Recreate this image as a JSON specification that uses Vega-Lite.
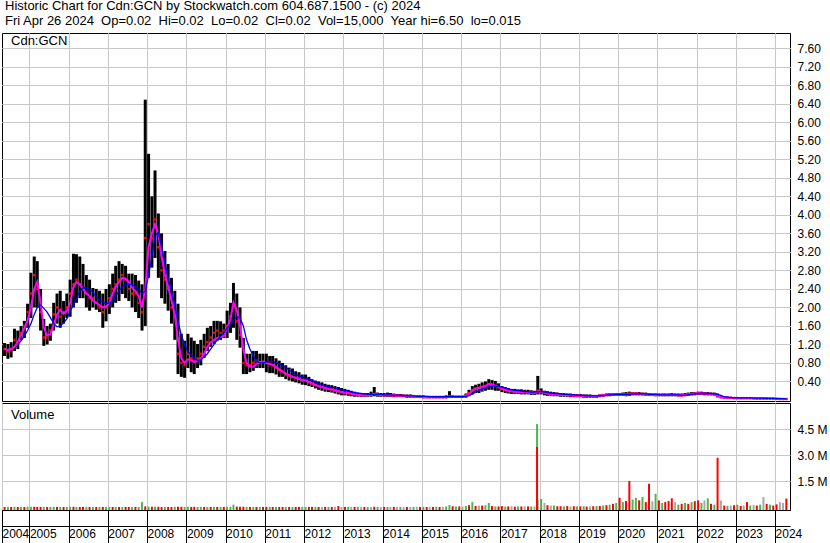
{
"$schema": "https://vega.github.io/schema/vega-lite/v6.json",
"padding": 0,
"background": "white",
"spacing": 2,
"bounds": "flush",
"title": {"text": ["Historic Chart for Cdn:GCN by Stockwatch.com 604.687.1500 - (c) 2024", "Fri Apr 26 2024\u00a0\u00a0Op=0.02\u00a0\u00a0Hi=0.02\u00a0\u00a0Lo=0.02\u00a0\u00a0Cl=0.02\u00a0\u00a0Vol=15,000\u00a0\u00a0Year hi=6.50\u00a0\u00a0lo=0.015"], "anchor": "start", "frame": "group", "font": "Liberation Sans", "fontSize": 13, "fontWeight": "normal", "color": "#000000", "lineHeight": 15, "offset": 4, "dx": 3},
"config": {
  "view": {"stroke": "#000000", "strokeWidth": 1},
  "scale": {"continuousPadding": 0},
  "axis": {"labelFont": "Liberation Sans", "labelFontSize": 12, "labelColor": "#000000", "gridColor": "#c8c8c8", "gridWidth": 1, "title": null}
},
"datasets": {
"p": [
{"d":"2004-05-15","h":1.23,"l":0.95,"c":1.1,"a":1.1,"b":null,"vol":0.02,"k":"d"},
{"d":"2004-06-15","h":1.21,"l":0.89,"c":1.05,"a":1.08,"b":null,"vol":0.02,"k":"u"},
{"d":"2004-07-15","h":1.25,"l":0.92,"c":1.1,"a":1.1,"b":null,"vol":0.02,"k":"d"},
{"d":"2004-08-15","h":1.54,"l":1.06,"c":1.3,"a":1.15,"b":null,"vol":0.03,"k":"u"},
{"d":"2004-09-15","h":1.5,"l":1.1,"c":1.25,"a":1.25,"b":1.2,"vol":0.02,"k":"d"},
{"d":"2004-10-15","h":1.6,"l":1.3,"c":1.45,"a":1.4,"b":1.28,"vol":0.03,"k":"u"},
{"d":"2004-11-15","h":1.71,"l":1.34,"c":1.6,"a":1.55,"b":1.38,"vol":0.02,"k":"d"},
{"d":"2004-12-15","h":2.08,"l":1.56,"c":1.9,"a":1.71,"b":1.5,"vol":0.03,"k":"u"},
{"d":"2005-01-15","h":2.75,"l":1.77,"c":2.3,"a":2.0,"b":1.65,"vol":0.03,"k":"u"},
{"d":"2005-02-15","h":3.1,"l":2.0,"c":2.7,"a":2.4,"b":1.85,"vol":0.03,"k":"d"},
{"d":"2005-03-15","h":3.0,"l":2.0,"c":2.4,"a":2.55,"b":2.0,"vol":0.02,"k":"d"},
{"d":"2005-04-15","h":2.4,"l":1.5,"c":1.9,"a":2.1,"b":2.05,"vol":0.02,"k":"d"},
{"d":"2005-05-15","h":1.75,"l":1.17,"c":1.35,"a":1.56,"b":1.98,"vol":0.02,"k":"u"},
{"d":"2005-06-15","h":1.6,"l":1.2,"c":1.35,"a":1.4,"b":1.9,"vol":0.02,"k":"d"},
{"d":"2005-07-15","h":1.65,"l":1.28,"c":1.5,"a":1.42,"b":1.78,"vol":0.02,"k":"u"},
{"d":"2005-08-15","h":2.1,"l":1.5,"c":1.85,"a":1.62,"b":1.66,"vol":0.03,"k":"u"},
{"d":"2005-09-15","h":2.3,"l":1.65,"c":2.0,"a":1.85,"b":1.58,"vol":0.02,"k":"d"},
{"d":"2005-10-15","h":2.36,"l":1.56,"c":1.8,"a":1.95,"b":1.6,"vol":0.02,"k":"u"},
{"d":"2005-11-15","h":2.14,"l":1.65,"c":1.9,"a":1.86,"b":1.67,"vol":0.02,"k":"d"},
{"d":"2005-12-15","h":2.3,"l":1.77,"c":2.0,"a":1.92,"b":1.75,"vol":0.02,"k":"u"},
{"d":"2006-01-15","h":2.6,"l":1.8,"c":2.3,"a":2.1,"b":1.92,"vol":0.03,"k":"u"},
{"d":"2006-02-15","h":3.16,"l":2.0,"c":2.5,"a":2.45,"b":2.05,"vol":0.03,"k":"d"},
{"d":"2006-03-15","h":3.15,"l":2.1,"c":2.6,"a":2.55,"b":2.2,"vol":0.02,"k":"u"},
{"d":"2006-04-15","h":3.1,"l":2.2,"c":2.5,"a":2.5,"b":2.35,"vol":0.02,"k":"d"},
{"d":"2006-05-15","h":2.94,"l":2.2,"c":2.4,"a":2.4,"b":2.42,"vol":0.02,"k":"d"},
{"d":"2006-06-15","h":2.7,"l":2.0,"c":2.3,"a":2.3,"b":2.42,"vol":0.02,"k":"u"},
{"d":"2006-07-15","h":2.6,"l":1.93,"c":2.2,"a":2.25,"b":2.38,"vol":0.02,"k":"d"},
{"d":"2006-08-15","h":2.42,"l":2.0,"c":2.2,"a":2.15,"b":2.33,"vol":0.02,"k":"u"},
{"d":"2006-09-15","h":2.4,"l":1.95,"c":2.1,"a":2.1,"b":2.22,"vol":0.02,"k":"d"},
{"d":"2006-10-15","h":2.36,"l":1.9,"c":2.0,"a":2.05,"b":2.16,"vol":0.02,"k":"u"},
{"d":"2006-11-15","h":2.3,"l":1.56,"c":1.9,"a":2.0,"b":2.12,"vol":0.02,"k":"d"},
{"d":"2006-12-15","h":2.4,"l":1.7,"c":2.0,"a":2.02,"b":2.08,"vol":0.02,"k":"u"},
{"d":"2007-01-15","h":2.5,"l":1.86,"c":2.2,"a":2.1,"b":2.1,"vol":0.02,"k":"u"},
{"d":"2007-02-15","h":2.73,"l":2.0,"c":2.4,"a":2.3,"b":2.14,"vol":0.02,"k":"d"},
{"d":"2007-03-15","h":2.9,"l":2.1,"c":2.5,"a":2.45,"b":2.25,"vol":0.02,"k":"u"},
{"d":"2007-04-15","h":3.0,"l":2.14,"c":2.6,"a":2.55,"b":2.35,"vol":0.02,"k":"d"},
{"d":"2007-05-15","h":2.94,"l":2.29,"c":2.7,"a":2.64,"b":2.45,"vol":0.02,"k":"u"},
{"d":"2007-06-15","h":2.9,"l":2.2,"c":2.6,"a":2.62,"b":2.5,"vol":0.02,"k":"d"},
{"d":"2007-07-15","h":2.73,"l":2.14,"c":2.4,"a":2.55,"b":2.5,"vol":0.02,"k":"d"},
{"d":"2007-08-15","h":2.73,"l":2.0,"c":2.3,"a":2.42,"b":2.5,"vol":0.02,"k":"u"},
{"d":"2007-09-15","h":2.7,"l":1.9,"c":2.3,"a":2.35,"b":2.45,"vol":0.02,"k":"d"},
{"d":"2007-10-15","h":2.58,"l":1.77,"c":2.1,"a":2.25,"b":2.4,"vol":0.02,"k":"u"},
{"d":"2007-11-15","h":2.5,"l":1.5,"c":1.9,"a":2.0,"b":2.3,"vol":0.3,"k":"u"},
{"d":"2007-12-15","h":6.49,"l":1.6,"c":3.5,"a":2.4,"b":2.35,"vol":0.05,"k":"d"},
{"d":"2008-01-15","h":5.32,"l":2.64,"c":3.8,"a":3.3,"b":2.7,"vol":0.04,"k":"u"},
{"d":"2008-02-15","h":4.4,"l":2.86,"c":3.5,"a":3.6,"b":3.1,"vol":0.03,"k":"d"},
{"d":"2008-03-15","h":4.96,"l":3.07,"c":3.9,"a":3.8,"b":3.55,"vol":0.03,"k":"u"},
{"d":"2008-04-15","h":4.03,"l":2.64,"c":3.3,"a":3.6,"b":3.62,"vol":0.03,"k":"d"},
{"d":"2008-05-15","h":3.6,"l":2.2,"c":2.8,"a":3.1,"b":3.3,"vol":0.02,"k":"d"},
{"d":"2008-06-15","h":3.22,"l":2.08,"c":2.6,"a":2.7,"b":2.95,"vol":0.02,"k":"u"},
{"d":"2008-07-15","h":2.94,"l":1.93,"c":2.4,"a":2.45,"b":2.65,"vol":0.02,"k":"d"},
{"d":"2008-08-15","h":2.64,"l":1.65,"c":2.0,"a":2.15,"b":2.35,"vol":0.02,"k":"d"},
{"d":"2008-09-15","h":2.36,"l":1.3,"c":1.8,"a":1.85,"b":2.05,"vol":0.03,"k":"u"},
{"d":"2008-10-15","h":2.08,"l":0.56,"c":1.0,"a":1.3,"b":1.7,"vol":0.03,"k":"d"},
{"d":"2008-11-15","h":1.43,"l":0.5,"c":0.8,"a":0.9,"b":1.4,"vol":0.03,"k":"d"},
{"d":"2008-12-15","h":1.28,"l":0.48,"c":0.75,"a":0.8,"b":1.2,"vol":0.02,"k":"u"},
{"d":"2009-01-15","h":1.43,"l":0.69,"c":1.0,"a":0.88,"b":1.05,"vol":0.03,"k":"u"},
{"d":"2009-02-15","h":1.35,"l":0.6,"c":0.9,"a":0.86,"b":0.97,"vol":0.02,"k":"d"},
{"d":"2009-03-15","h":1.28,"l":0.56,"c":0.85,"a":0.82,"b":0.9,"vol":0.03,"k":"d"},
{"d":"2009-04-15","h":1.21,"l":0.69,"c":0.9,"a":0.85,"b":0.85,"vol":0.02,"k":"u"},
{"d":"2009-05-15","h":1.3,"l":0.75,"c":1.0,"a":0.9,"b":0.87,"vol":0.03,"k":"u"},
{"d":"2009-06-15","h":1.43,"l":0.91,"c":1.15,"a":1.0,"b":0.93,"vol":0.02,"k":"d"},
{"d":"2009-07-15","h":1.56,"l":1.06,"c":1.25,"a":1.15,"b":1.0,"vol":0.02,"k":"u"},
{"d":"2009-08-15","h":1.6,"l":1.15,"c":1.35,"a":1.25,"b":1.1,"vol":0.02,"k":"d"},
{"d":"2009-09-15","h":1.71,"l":1.21,"c":1.45,"a":1.3,"b":1.2,"vol":0.03,"k":"u"},
{"d":"2009-10-15","h":1.71,"l":1.28,"c":1.5,"a":1.34,"b":1.3,"vol":0.02,"k":"d"},
{"d":"2009-11-15","h":1.7,"l":1.3,"c":1.45,"a":1.36,"b":1.38,"vol":0.02,"k":"u"},
{"d":"2009-12-15","h":1.65,"l":1.34,"c":1.5,"a":1.38,"b":1.45,"vol":0.02,"k":"d"},
{"d":"2010-01-15","h":1.93,"l":1.34,"c":1.6,"a":1.55,"b":1.55,"vol":0.03,"k":"u"},
{"d":"2010-02-15","h":2.1,"l":1.45,"c":1.8,"a":1.75,"b":1.63,"vol":0.03,"k":"u"},
{"d":"2010-03-15","h":2.53,"l":1.56,"c":2.0,"a":2.1,"b":1.72,"vol":0.15,"k":"u"},
{"d":"2010-04-15","h":2.3,"l":1.3,"c":1.7,"a":1.95,"b":1.8,"vol":0.04,"k":"d"},
{"d":"2010-05-15","h":2.0,"l":1.13,"c":1.4,"a":1.6,"b":1.77,"vol":0.03,"k":"d"},
{"d":"2010-06-15","h":1.34,"l":0.56,"c":0.8,"a":1.1,"b":1.6,"vol":0.03,"k":"d"},
{"d":"2010-07-15","h":1.0,"l":0.56,"c":0.75,"a":0.8,"b":1.3,"vol":0.02,"k":"u"},
{"d":"2010-08-15","h":1.0,"l":0.6,"c":0.75,"a":0.72,"b":1.1,"vol":0.02,"k":"d"},
{"d":"2010-09-15","h":1.06,"l":0.63,"c":0.8,"a":0.72,"b":0.95,"vol":0.02,"k":"u"},
{"d":"2010-10-15","h":1.06,"l":0.69,"c":0.85,"a":0.78,"b":0.84,"vol":0.02,"k":"d"},
{"d":"2010-11-15","h":1.0,"l":0.69,"c":0.8,"a":0.82,"b":0.8,"vol":0.02,"k":"u"},
{"d":"2010-12-15","h":1.0,"l":0.69,"c":0.82,"a":0.83,"b":0.8,"vol":0.02,"k":"d"},
{"d":"2011-01-15","h":1.0,"l":0.6,"c":0.8,"a":0.8,"b":0.82,"vol":0.02,"k":"d"},
{"d":"2011-02-15","h":0.95,"l":0.58,"c":0.78,"a":0.78,"b":0.84,"vol":0.02,"k":"u"},
{"d":"2011-03-15","h":0.95,"l":0.58,"c":0.75,"a":0.76,"b":0.83,"vol":0.02,"k":"d"},
{"d":"2011-04-15","h":0.9,"l":0.55,"c":0.7,"a":0.72,"b":0.8,"vol":0.02,"k":"u"},
{"d":"2011-05-15","h":0.85,"l":0.5,"c":0.65,"a":0.66,"b":0.78,"vol":0.02,"k":"d"},
{"d":"2011-06-15","h":0.8,"l":0.5,"c":0.6,"a":0.62,"b":0.74,"vol":0.02,"k":"d"},
{"d":"2011-07-15","h":0.75,"l":0.45,"c":0.55,"a":0.57,"b":0.7,"vol":0.02,"k":"u"},
{"d":"2011-08-15","h":0.7,"l":0.42,"c":0.52,"a":0.54,"b":0.65,"vol":0.02,"k":"d"},
{"d":"2011-09-15","h":0.68,"l":0.4,"c":0.5,"a":0.5,"b":0.6,"vol":0.02,"k":"u"},
{"d":"2011-10-15","h":0.62,"l":0.38,"c":0.48,"a":0.48,"b":0.56,"vol":0.02,"k":"d"},
{"d":"2011-11-15","h":0.6,"l":0.36,"c":0.46,"a":0.46,"b":0.52,"vol":0.02,"k":"d"},
{"d":"2011-12-15","h":0.55,"l":0.33,"c":0.42,"a":0.43,"b":0.5,"vol":0.02,"k":"u"},
{"d":"2012-01-15","h":0.55,"l":0.32,"c":0.42,"a":0.42,"b":0.47,"vol":0.02,"k":"u"},
{"d":"2012-02-15","h":0.5,"l":0.3,"c":0.38,"a":0.39,"b":0.45,"vol":0.02,"k":"d"},
{"d":"2012-03-15","h":0.45,"l":0.28,"c":0.35,"a":0.36,"b":0.42,"vol":0.02,"k":"d"},
{"d":"2012-04-15","h":0.42,"l":0.25,"c":0.32,"a":0.33,"b":0.39,"vol":0.02,"k":"u"},
{"d":"2012-05-15","h":0.4,"l":0.22,"c":0.3,"a":0.3,"b":0.36,"vol":0.02,"k":"d"},
{"d":"2012-06-15","h":0.38,"l":0.2,"c":0.28,"a":0.28,"b":0.33,"vol":0.02,"k":"n"},
{"d":"2012-07-15","h":0.35,"l":0.18,"c":0.25,"a":0.26,"b":0.31,"vol":0.02,"k":"d"},
{"d":"2012-08-15","h":0.33,"l":0.17,"c":0.24,"a":0.24,"b":0.29,"vol":0.02,"k":"u"},
{"d":"2012-09-15","h":0.32,"l":0.16,"c":0.22,"a":0.23,"b":0.27,"vol":0.02,"k":"d"},
{"d":"2012-10-15","h":0.3,"l":0.14,"c":0.2,"a":0.21,"b":0.26,"vol":0.03,"k":"n"},
{"d":"2012-11-15","h":0.28,"l":0.12,"c":0.18,"a":0.19,"b":0.24,"vol":0.07,"k":"d"},
{"d":"2012-12-15","h":0.26,"l":0.1,"c":0.16,"a":0.17,"b":0.22,"vol":0.02,"k":"n"},
{"d":"2013-01-15","h":0.24,"l":0.1,"c":0.15,"a":0.16,"b":0.21,"vol":0.02,"k":"d"},
{"d":"2013-02-15","h":0.22,"l":0.09,"c":0.14,"a":0.15,"b":0.19,"vol":0.03,"k":"u"},
{"d":"2013-03-15","h":0.2,"l":0.08,"c":0.13,"a":0.14,"b":0.17,"vol":0.02,"k":"n"},
{"d":"2013-04-15","h":0.18,"l":0.07,"c":0.12,"a":0.12,"b":0.16,"vol":0.02,"k":"d"},
{"d":"2013-05-15","h":0.16,"l":0.07,"c":0.11,"a":0.11,"b":0.15,"vol":0.03,"k":"u"},
{"d":"2013-06-15","h":0.15,"l":0.07,"c":0.1,"a":0.1,"b":0.14,"vol":0.02,"k":"n"},
{"d":"2013-07-15","h":0.15,"l":0.07,"c":0.1,"a":0.1,"b":0.13,"vol":0.02,"k":"d"},
{"d":"2013-08-15","h":0.15,"l":0.07,"c":0.1,"a":0.1,"b":0.12,"vol":0.02,"k":"u"},
{"d":"2013-09-15","h":0.18,"l":0.07,"c":0.11,"a":0.11,"b":0.12,"vol":0.02,"k":"n"},
{"d":"2013-10-15","h":0.28,"l":0.08,"c":0.13,"a":0.13,"b":0.12,"vol":0.03,"k":"d"},
{"d":"2013-11-15","h":0.16,"l":0.07,"c":0.11,"a":0.12,"b":0.12,"vol":0.02,"k":"u"},
{"d":"2013-12-15","h":0.15,"l":0.07,"c":0.1,"a":0.11,"b":0.12,"vol":0.02,"k":"n"},
{"d":"2014-01-15","h":0.15,"l":0.07,"c":0.1,"a":0.1,"b":0.11,"vol":0.02,"k":"d"},
{"d":"2014-02-15","h":0.16,"l":0.07,"c":0.11,"a":0.1,"b":0.11,"vol":0.02,"k":"u"},
{"d":"2014-03-15","h":0.15,"l":0.07,"c":0.1,"a":0.1,"b":0.11,"vol":0.02,"k":"n"},
{"d":"2014-04-15","h":0.14,"l":0.06,"c":0.1,"a":0.1,"b":0.1,"vol":0.02,"k":"d"},
{"d":"2014-05-15","h":0.13,"l":0.06,"c":0.09,"a":0.09,"b":0.1,"vol":0.02,"k":"n"},
{"d":"2014-06-15","h":0.13,"l":0.06,"c":0.09,"a":0.09,"b":0.1,"vol":0.02,"k":"u"},
{"d":"2014-07-15","h":0.12,"l":0.06,"c":0.09,"a":0.09,"b":0.09,"vol":0.02,"k":"n"},
{"d":"2014-08-15","h":0.12,"l":0.05,"c":0.08,"a":0.08,"b":0.09,"vol":0.02,"k":"d"},
{"d":"2014-09-15","h":0.12,"l":0.05,"c":0.08,"a":0.08,"b":0.09,"vol":0.02,"k":"n"},
{"d":"2014-10-15","h":0.11,"l":0.05,"c":0.08,"a":0.08,"b":0.09,"vol":0.02,"k":"u"},
{"d":"2014-11-15","h":0.1,"l":0.05,"c":0.07,"a":0.07,"b":0.08,"vol":0.02,"k":"n"},
{"d":"2014-12-15","h":0.1,"l":0.04,"c":0.07,"a":0.07,"b":0.08,"vol":0.02,"k":"d"},
{"d":"2015-01-15","h":0.1,"l":0.04,"c":0.06,"a":0.06,"b":0.08,"vol":0.03,"k":"u"},
{"d":"2015-02-15","h":0.09,"l":0.04,"c":0.06,"a":0.06,"b":0.08,"vol":0.02,"k":"d"},
{"d":"2015-03-15","h":0.09,"l":0.04,"c":0.06,"a":0.06,"b":0.07,"vol":0.03,"k":"n"},
{"d":"2015-04-15","h":0.09,"l":0.04,"c":0.06,"a":0.06,"b":0.07,"vol":0.02,"k":"d"},
{"d":"2015-05-15","h":0.09,"l":0.04,"c":0.06,"a":0.06,"b":0.07,"vol":0.03,"k":"u"},
{"d":"2015-06-15","h":0.09,"l":0.04,"c":0.06,"a":0.06,"b":0.07,"vol":0.02,"k":"d"},
{"d":"2015-07-15","h":0.09,"l":0.04,"c":0.06,"a":0.06,"b":0.07,"vol":0.03,"k":"n"},
{"d":"2015-08-15","h":0.1,"l":0.04,"c":0.06,"a":0.06,"b":0.07,"vol":0.05,"k":"u"},
{"d":"2015-09-15","h":0.19,"l":0.05,"c":0.08,"a":0.07,"b":0.07,"vol":0.13,"k":"u"},
{"d":"2015-10-15","h":0.1,"l":0.05,"c":0.07,"a":0.07,"b":0.07,"vol":0.06,"k":"d"},
{"d":"2015-11-15","h":0.09,"l":0.05,"c":0.07,"a":0.07,"b":0.07,"vol":0.04,"k":"u"},
{"d":"2015-12-15","h":0.09,"l":0.05,"c":0.07,"a":0.07,"b":0.07,"vol":0.05,"k":"d"},
{"d":"2016-01-15","h":0.09,"l":0.05,"c":0.07,"a":0.07,"b":0.07,"vol":0.04,"k":"n"},
{"d":"2016-02-15","h":0.14,"l":0.05,"c":0.1,"a":0.09,"b":0.08,"vol":0.08,"k":"u"},
{"d":"2016-03-15","h":0.22,"l":0.08,"c":0.15,"a":0.13,"b":0.1,"vol":0.12,"k":"d"},
{"d":"2016-04-15","h":0.3,"l":0.12,"c":0.22,"a":0.2,"b":0.13,"vol":0.3,"k":"u"},
{"d":"2016-05-15","h":0.33,"l":0.15,"c":0.25,"a":0.24,"b":0.17,"vol":0.08,"k":"d"},
{"d":"2016-06-15","h":0.35,"l":0.15,"c":0.26,"a":0.26,"b":0.2,"vol":0.1,"k":"n"},
{"d":"2016-07-15","h":0.38,"l":0.18,"c":0.28,"a":0.28,"b":0.23,"vol":0.1,"k":"d"},
{"d":"2016-08-15","h":0.4,"l":0.2,"c":0.3,"a":0.3,"b":0.26,"vol":0.12,"k":"u"},
{"d":"2016-09-15","h":0.45,"l":0.22,"c":0.34,"a":0.35,"b":0.28,"vol":0.25,"k":"u"},
{"d":"2016-10-15","h":0.43,"l":0.22,"c":0.32,"a":0.34,"b":0.3,"vol":0.07,"k":"d"},
{"d":"2016-11-15","h":0.41,"l":0.2,"c":0.3,"a":0.31,"b":0.3,"vol":0.05,"k":"u"},
{"d":"2016-12-15","h":0.36,"l":0.2,"c":0.27,"a":0.28,"b":0.29,"vol":0.05,"k":"d"},
{"d":"2017-01-15","h":0.3,"l":0.17,"c":0.24,"a":0.25,"b":0.28,"vol":0.07,"k":"d"},
{"d":"2017-02-15","h":0.28,"l":0.15,"c":0.22,"a":0.22,"b":0.26,"vol":0.04,"k":"u"},
{"d":"2017-03-15","h":0.26,"l":0.14,"c":0.2,"a":0.2,"b":0.24,"vol":0.05,"k":"d"},
{"d":"2017-04-15","h":0.24,"l":0.13,"c":0.19,"a":0.19,"b":0.22,"vol":0.06,"k":"n"},
{"d":"2017-05-15","h":0.24,"l":0.13,"c":0.18,"a":0.18,"b":0.21,"vol":0.04,"k":"d"},
{"d":"2017-06-15","h":0.23,"l":0.13,"c":0.18,"a":0.18,"b":0.2,"vol":0.05,"k":"u"},
{"d":"2017-07-15","h":0.23,"l":0.12,"c":0.17,"a":0.17,"b":0.19,"vol":0.05,"k":"d"},
{"d":"2017-08-15","h":0.22,"l":0.12,"c":0.17,"a":0.17,"b":0.18,"vol":0.06,"k":"n"},
{"d":"2017-09-15","h":0.22,"l":0.12,"c":0.16,"a":0.16,"b":0.18,"vol":0.05,"k":"d"},
{"d":"2017-10-15","h":0.21,"l":0.11,"c":0.16,"a":0.16,"b":0.17,"vol":0.05,"k":"u"},
{"d":"2017-11-15","h":0.2,"l":0.11,"c":0.15,"a":0.15,"b":0.17,"vol":0.05,"k":"n"},
{"d":"2017-12-15","h":0.52,"l":0.12,"c":0.2,"a":0.19,"b":0.18,"vol":0.42,"k":"n"},
{"d":"2018-01-15","h":0.25,"l":0.12,"c":0.17,"a":0.18,"b":0.18,"vol":0.48,"k":"u"},
{"d":"2018-02-15","h":0.2,"l":0.1,"c":0.15,"a":0.16,"b":0.17,"vol":0.25,"k":"n"},
{"d":"2018-03-15","h":0.19,"l":0.09,"c":0.14,"a":0.14,"b":0.16,"vol":0.12,"k":"d"},
{"d":"2018-04-15","h":0.18,"l":0.09,"c":0.13,"a":0.13,"b":0.15,"vol":0.1,"k":"n"},
{"d":"2018-05-15","h":0.17,"l":0.08,"c":0.12,"a":0.12,"b":0.14,"vol":0.1,"k":"u"},
{"d":"2018-06-15","h":0.16,"l":0.08,"c":0.12,"a":0.12,"b":0.14,"vol":0.06,"k":"d"},
{"d":"2018-07-15","h":0.15,"l":0.07,"c":0.11,"a":0.11,"b":0.13,"vol":0.06,"k":"d"},
{"d":"2018-08-15","h":0.15,"l":0.07,"c":0.11,"a":0.11,"b":0.12,"vol":0.05,"k":"u"},
{"d":"2018-09-15","h":0.14,"l":0.07,"c":0.1,"a":0.1,"b":0.12,"vol":0.07,"k":"d"},
{"d":"2018-10-15","h":0.14,"l":0.06,"c":0.1,"a":0.1,"b":0.11,"vol":0.05,"k":"n"},
{"d":"2018-11-15","h":0.13,"l":0.06,"c":0.09,"a":0.09,"b":0.11,"vol":0.06,"k":"d"},
{"d":"2018-12-15","h":0.13,"l":0.06,"c":0.09,"a":0.09,"b":0.1,"vol":0.05,"k":"u"},
{"d":"2019-01-15","h":0.13,"l":0.06,"c":0.09,"a":0.09,"b":0.1,"vol":0.05,"k":"d"},
{"d":"2019-02-15","h":0.12,"l":0.05,"c":0.08,"a":0.08,"b":0.1,"vol":0.06,"k":"u"},
{"d":"2019-03-15","h":0.12,"l":0.05,"c":0.08,"a":0.08,"b":0.09,"vol":0.04,"k":"d"},
{"d":"2019-04-15","h":0.12,"l":0.05,"c":0.08,"a":0.08,"b":0.09,"vol":0.05,"k":"n"},
{"d":"2019-05-15","h":0.11,"l":0.05,"c":0.08,"a":0.08,"b":0.09,"vol":0.06,"k":"d"},
{"d":"2019-06-15","h":0.11,"l":0.05,"c":0.08,"a":0.08,"b":0.09,"vol":0.07,"k":"u"},
{"d":"2019-07-15","h":0.12,"l":0.06,"c":0.09,"a":0.09,"b":0.09,"vol":0.08,"k":"d"},
{"d":"2019-08-15","h":0.13,"l":0.07,"c":0.1,"a":0.1,"b":0.1,"vol":0.1,"k":"u"},
{"d":"2019-09-15","h":0.14,"l":0.08,"c":0.11,"a":0.11,"b":0.1,"vol":0.12,"k":"d"},
{"d":"2019-10-15","h":0.15,"l":0.08,"c":0.12,"a":0.12,"b":0.11,"vol":0.15,"k":"u"},
{"d":"2019-11-15","h":0.15,"l":0.09,"c":0.12,"a":0.12,"b":0.11,"vol":0.2,"k":"d"},
{"d":"2019-12-15","h":0.15,"l":0.09,"c":0.12,"a":0.12,"b":0.12,"vol":0.25,"k":"u"},
{"d":"2020-01-15","h":0.15,"l":0.09,"c":0.12,"a":0.12,"b":0.12,"vol":0.55,"k":"d"},
{"d":"2020-02-15","h":0.16,"l":0.09,"c":0.13,"a":0.12,"b":0.12,"vol":0.3,"k":"u"},
{"d":"2020-03-15","h":0.17,"l":0.08,"c":0.12,"a":0.12,"b":0.12,"vol":0.36,"k":"d"},
{"d":"2020-04-15","h":0.18,"l":0.09,"c":0.14,"a":0.13,"b":0.12,"vol":1.52,"k":"d"},
{"d":"2020-05-15","h":0.17,"l":0.1,"c":0.14,"a":0.14,"b":0.13,"vol":0.45,"k":"u"},
{"d":"2020-06-15","h":0.17,"l":0.1,"c":0.14,"a":0.14,"b":0.13,"vol":0.55,"k":"u"},
{"d":"2020-07-15","h":0.17,"l":0.1,"c":0.13,"a":0.13,"b":0.13,"vol":0.4,"k":"d"},
{"d":"2020-08-15","h":0.16,"l":0.1,"c":0.13,"a":0.13,"b":0.13,"vol":0.6,"k":"u"},
{"d":"2020-09-15","h":0.16,"l":0.09,"c":0.12,"a":0.12,"b":0.13,"vol":0.3,"k":"d"},
{"d":"2020-10-15","h":0.15,"l":0.09,"c":0.12,"a":0.12,"b":0.12,"vol":1.36,"k":"d"},
{"d":"2020-11-15","h":0.14,"l":0.09,"c":0.11,"a":0.11,"b":0.12,"vol":0.35,"k":"n"},
{"d":"2020-12-15","h":0.14,"l":0.08,"c":0.11,"a":0.11,"b":0.12,"vol":0.78,"k":"u"},
{"d":"2021-01-15","h":0.14,"l":0.08,"c":0.11,"a":0.11,"b":0.11,"vol":0.4,"k":"d"},
{"d":"2021-02-15","h":0.14,"l":0.08,"c":0.11,"a":0.11,"b":0.11,"vol":0.25,"k":"u"},
{"d":"2021-03-15","h":0.14,"l":0.08,"c":0.11,"a":0.11,"b":0.11,"vol":0.3,"k":"d"},
{"d":"2021-04-15","h":0.14,"l":0.08,"c":0.11,"a":0.11,"b":0.11,"vol":0.36,"k":"d"},
{"d":"2021-05-15","h":0.15,"l":0.08,"c":0.11,"a":0.11,"b":0.11,"vol":0.52,"k":"d"},
{"d":"2021-06-15","h":0.14,"l":0.08,"c":0.11,"a":0.11,"b":0.11,"vol":0.3,"k":"n"},
{"d":"2021-07-15","h":0.14,"l":0.08,"c":0.1,"a":0.1,"b":0.11,"vol":0.15,"k":"u"},
{"d":"2021-08-15","h":0.14,"l":0.08,"c":0.1,"a":0.1,"b":0.1,"vol":0.2,"k":"d"},
{"d":"2021-09-15","h":0.15,"l":0.08,"c":0.11,"a":0.11,"b":0.1,"vol":0.25,"k":"u"},
{"d":"2021-10-15","h":0.16,"l":0.09,"c":0.12,"a":0.12,"b":0.11,"vol":0.2,"k":"d"},
{"d":"2021-11-15","h":0.17,"l":0.1,"c":0.13,"a":0.13,"b":0.12,"vol":0.3,"k":"u"},
{"d":"2021-12-15","h":0.17,"l":0.1,"c":0.14,"a":0.14,"b":0.13,"vol":0.35,"k":"d"},
{"d":"2022-01-15","h":0.18,"l":0.11,"c":0.14,"a":0.15,"b":0.14,"vol":0.4,"k":"d"},
{"d":"2022-02-15","h":0.18,"l":0.11,"c":0.14,"a":0.14,"b":0.14,"vol":0.25,"k":"u"},
{"d":"2022-03-15","h":0.17,"l":0.1,"c":0.14,"a":0.14,"b":0.14,"vol":0.4,"k":"n"},
{"d":"2022-04-15","h":0.17,"l":0.1,"c":0.13,"a":0.13,"b":0.14,"vol":0.52,"k":"u"},
{"d":"2022-05-15","h":0.16,"l":0.1,"c":0.13,"a":0.13,"b":0.14,"vol":0.2,"k":"d"},
{"d":"2022-06-15","h":0.16,"l":0.1,"c":0.12,"a":0.12,"b":0.13,"vol":0.15,"k":"u"},
{"d":"2022-07-15","h":0.14,"l":0.06,"c":0.08,"a":0.09,"b":0.12,"vol":2.86,"k":"d"},
{"d":"2022-08-15","h":0.09,"l":0.04,"c":0.06,"a":0.06,"b":0.1,"vol":0.4,"k":"n"},
{"d":"2022-09-15","h":0.07,"l":0.04,"c":0.05,"a":0.05,"b":0.07,"vol":0.1,"k":"d"},
{"d":"2022-10-15","h":0.07,"l":0.03,"c":0.05,"a":0.05,"b":0.06,"vol":0.08,"k":"u"},
{"d":"2022-11-15","h":0.06,"l":0.03,"c":0.05,"a":0.05,"b":0.05,"vol":0.1,"k":"n"},
{"d":"2022-12-15","h":0.06,"l":0.03,"c":0.04,"a":0.04,"b":0.05,"vol":0.12,"k":"d"},
{"d":"2023-01-15","h":0.06,"l":0.03,"c":0.04,"a":0.04,"b":0.045,"vol":0.15,"k":"u"},
{"d":"2023-02-15","h":0.06,"l":0.03,"c":0.04,"a":0.04,"b":0.045,"vol":0.08,"k":"d"},
{"d":"2023-03-15","h":0.06,"l":0.03,"c":0.04,"a":0.04,"b":0.045,"vol":0.1,"k":"n"},
{"d":"2023-04-15","h":0.06,"l":0.03,"c":0.04,"a":0.04,"b":0.045,"vol":0.3,"k":"d"},
{"d":"2023-05-15","h":0.05,"l":0.03,"c":0.04,"a":0.04,"b":0.045,"vol":0.1,"k":"u"},
{"d":"2023-06-15","h":0.05,"l":0.02,"c":0.035,"a":0.035,"b":0.04,"vol":0.12,"k":"n"},
{"d":"2023-07-15","h":0.05,"l":0.02,"c":0.03,"a":0.03,"b":0.04,"vol":0.1,"k":"d"},
{"d":"2023-08-15","h":0.05,"l":0.02,"c":0.03,"a":0.03,"b":0.04,"vol":0.15,"k":"u"},
{"d":"2023-09-15","h":0.05,"l":0.02,"c":0.03,"a":0.03,"b":0.04,"vol":0.6,"k":"n"},
{"d":"2023-10-15","h":0.05,"l":0.02,"c":0.03,"a":0.03,"b":0.035,"vol":0.2,"k":"d"},
{"d":"2023-11-15","h":0.04,"l":0.02,"c":0.03,"a":0.03,"b":0.035,"vol":0.15,"k":"u"},
{"d":"2023-12-15","h":0.04,"l":0.02,"c":0.03,"a":0.03,"b":0.035,"vol":0.1,"k":"d"},
{"d":"2024-01-15","h":0.04,"l":0.015,"c":0.025,"a":0.025,"b":0.03,"vol":0.17,"k":"d"},
{"d":"2024-02-15","h":0.04,"l":0.015,"c":0.02,"a":0.025,"b":0.03,"vol":0.3,"k":"n"},
{"d":"2024-03-15","h":0.04,"l":0.015,"c":0.02,"a":0.02,"b":0.03,"vol":0.25,"k":"n"},
{"d":"2024-04-15","h":0.03,"l":0.015,"c":0.02,"a":0.02,"b":0.025,"vol":0.5,"k":"d"}
],
"s": [
{"d":"2017-12-08","vol":4.8,"k":"u"},
{"d":"2017-12-08","vol":3.48,"k":"d"}
],
"one": [{"t": 1}]
},
"vconcat": [
{
  "width": 788, "height": 368,
  "layer": [
    {"data": {"name": "p"}, "mark": {"type": "bar", "width": 3, "color": "#000000"},
     "encoding": {
       "x": {"field": "d", "type": "temporal", "scale": {"domain": [{"year":2004,"month":4,"date":21}, {"year":2024,"month":5,"date":19}], "padding": 0},
         "axis": {"values": [{"year":2005,"month":1,"date":1},{"year":2006,"month":1,"date":1},{"year":2007,"month":1,"date":1},{"year":2008,"month":1,"date":1},{"year":2009,"month":1,"date":1},{"year":2010,"month":1,"date":1},{"year":2011,"month":1,"date":1},{"year":2012,"month":1,"date":1},{"year":2013,"month":1,"date":1},{"year":2014,"month":1,"date":1},{"year":2015,"month":1,"date":1},{"year":2016,"month":1,"date":1},{"year":2017,"month":1,"date":1},{"year":2018,"month":1,"date":1},{"year":2019,"month":1,"date":1},{"year":2020,"month":1,"date":1},{"year":2021,"month":1,"date":1},{"year":2022,"month":1,"date":1},{"year":2023,"month":1,"date":1},{"year":2024,"month":1,"date":1}], "orient": "bottom", "grid": true, "labels": false, "ticks": true, "tickSize": -368, "tickColor": "#c8c8c8", "tickWidth": 1, "domain": false, "title": null}},
       "y": {"field": "h", "type": "quantitative", "scale": {"domain": [-0.022, 7.93], "nice": false, "zero": false},
         "axis": {"orient": "right", "values": [0.4,0.8,1.2,1.6,2.0,2.4,2.8,3.2,3.6,4.0,4.4,4.8,5.2,5.6,6.0,6.4,6.8,7.2,7.6], "format": ".2f", "grid": true, "ticks": false, "domain": false, "labelPadding": 7, "labelOverlap": false, "title": null}},
       "y2": {"field": "l"}}},
    {"data": {"name": "p"}, "mark": {"type": "point", "shape": "square", "filled": true, "color": "#ff0000", "size": 6, "opacity": 1},
     "encoding": {"x": {"field": "d", "type": "temporal", "axis": null},
       "y": {"field": "c", "type": "quantitative",
         "axis": {"orient": "right", "values": [0.4,0.8,1.2,1.6,2.0,2.4,2.8,3.2,3.6,4.0,4.4,4.8,5.2,5.6,6.0,6.4,6.8,7.2,7.6], "grid": false, "labels": false, "ticks": true, "tickSize": -788, "tickColor": "#c8c8c8", "tickWidth": 1, "domain": false, "title": null}}}},
    {"data": {"name": "p"}, "mark": {"type": "line", "color": "#ff00ff", "strokeWidth": 2},
     "encoding": {"x": {"field": "d", "type": "temporal", "axis": null}, "y": {"field": "a", "type": "quantitative", "axis": null}}},
    {"data": {"name": "p"}, "mark": {"type": "line", "color": "#0000ff", "strokeWidth": 1.3},
     "encoding": {"x": {"field": "d", "type": "temporal", "axis": null}, "y": {"field": "b", "type": "quantitative", "axis": null}}},
    {"data": {"name": "one"}, "mark": {"type": "text", "align": "left", "baseline": "middle", "font": "Liberation Sans", "fontSize": 13, "color": "#000000"},
     "encoding": {"x": {"datum": {"year":2004,"month":7,"date":14}, "type": "temporal", "axis": null}, "y": {"datum": 7.75, "type": "quantitative", "axis": null}, "text": {"value": "Cdn:GCN"}}}
  ],
  "resolve": {"axis": {"x": "independent", "y": "independent"}}
},
{
  "width": 788, "height": 107,
  "layer": [
    {"data": {"name": "p"},
     "mark": {"type": "bar", "width": 2},
     "encoding": {
       "x": {"field": "d", "type": "temporal", "scale": {"domain": [{"year":2004,"month":4,"date":21}, {"year":2024,"month":5,"date":19}], "padding": 0},
         "axis": {"values": [{"year":2004,"month":4,"date":21},{"year":2005,"month":1,"date":1},{"year":2006,"month":1,"date":1},{"year":2007,"month":1,"date":1},{"year":2008,"month":1,"date":1},{"year":2009,"month":1,"date":1},{"year":2010,"month":1,"date":1},{"year":2011,"month":1,"date":1},{"year":2012,"month":1,"date":1},{"year":2013,"month":1,"date":1},{"year":2014,"month":1,"date":1},{"year":2015,"month":1,"date":1},{"year":2016,"month":1,"date":1},{"year":2017,"month":1,"date":1},{"year":2018,"month":1,"date":1},{"year":2019,"month":1,"date":1},{"year":2020,"month":1,"date":1},{"year":2021,"month":1,"date":1},{"year":2022,"month":1,"date":1},{"year":2023,"month":1,"date":1},{"year":2024,"month":1,"date":1}],
           "orient": "bottom", "format": "%Y", "grid": true, "ticks": true, "tickSize": 34, "tickColor": "#000000", "tickWidth": 1, "domain": true, "domainColor": "#000000", "labelAlign": "left", "labelBaseline": "top", "labelPadding": -16, "labelDx": 2, "labelOverlap": false, "labelFlush": false, "labelBound": false, "title": null}},
       "y": {"field": "vol", "type": "quantitative", "scale": {"domain": [-0.156, 6.018], "nice": false, "zero": false},
         "axis": {"orient": "right", "values": [1.5, 3.0, 4.5], "labelExpr": "format(datum.value, '.1f') + ' M'", "grid": true, "ticks": false, "domain": false, "labelPadding": 7, "labelOverlap": false, "title": null}},
       "y2": {"datum": -0.156},
       "color": {"field": "k", "type": "nominal", "scale": {"domain": ["u", "d", "n"], "range": ["#4cb84c", "#ff0000", "#a8a8a8"]}, "legend": null}
     }},
    {"data": {"name": "s"},
     "mark": {"type": "bar", "width": 2},
     "encoding": {
       "x": {"field": "d", "type": "temporal", "axis": {"orient": "bottom", "offset": 16, "domain": true, "domainColor": "#000000", "ticks": false, "labels": false, "grid": false, "title": null}},
       "y": {"field": "vol", "type": "quantitative", "axis": {"orient": "right", "values": [1.5, 3.0, 4.5], "labelExpr": "format(datum.value, '.1f') + ' M'", "grid": true, "ticks": false, "domain": false, "labelPadding": 7, "labelOverlap": false, "title": null}},
       "y2": {"datum": -0.156},
       "color": {"field": "k", "type": "nominal", "legend": null}
     }},
    {"data": {"name": "one"},
     "mark": {"type": "text", "align": "left", "baseline": "middle", "font": "Liberation Sans", "fontSize": 13, "color": "#000000"},
     "encoding": {
       "x": {"datum": {"year":2004,"month":7,"date":14}, "type": "temporal", "axis": {"orient": "bottom", "offset": 33, "domain": true, "domainColor": "#000000", "ticks": false, "labels": false, "grid": false, "title": null}},
       "y": {"datum": 5.354, "type": "quantitative", "axis": {"orient": "right", "values": [1.5, 3.0, 4.5], "labelExpr": "format(datum.value, '.1f') + ' M'", "grid": true, "ticks": false, "domain": false, "labelPadding": 7, "labelOverlap": false, "title": null}},
       "text": {"value": "Volume"}
     }}
  ],
  "resolve": {"axis": {"x": "independent"}}
}
]
}
